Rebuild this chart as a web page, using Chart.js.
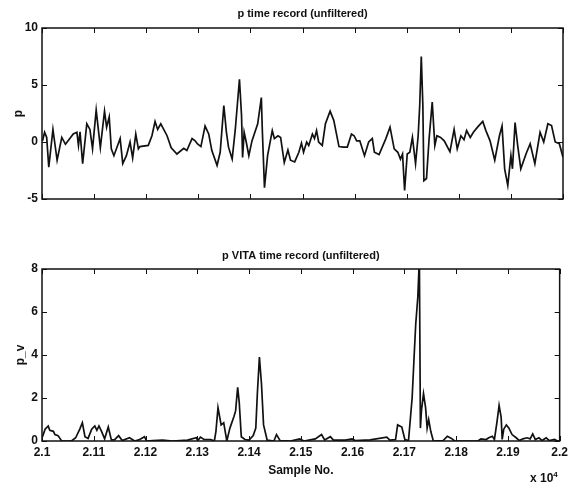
<!DOCTYPE html>
<html>
<head>
<meta charset="utf-8">
<script src="https://cdn.jsdelivr.net/npm/chart.js@4.4.1/dist/chart.umd.min.js"></script>
<style>
  html, body { margin: 0; padding: 0; background: #fff; }
  #wrap { position: relative; width: 572px; height: 489px; }
  .panel { position: absolute; left: 0; }
  #exp { position: absolute; left: 530px; top: 470px; color: #111;
         font: bold 12px "Liberation Sans", Arial, sans-serif; }
  #exp sup { font-size: 8px; }
</style>
</head>
<body>
<div id="wrap">
  <canvas id="pTop" class="panel" style="top:0" width="572" height="240"></canvas>
  <canvas id="pBottom" class="panel" style="top:240px" width="572" height="249"></canvas>
  <div id="exp">x 10<sup>4</sup></div>
</div>
<script>
// p and p VITA time records, samples 21000..22000

const FONT = '"Liberation Sans", Arial, sans-serif';

const xTickValues = [21000, 21100, 21200, 21300, 21400, 21500, 21600, 21700, 21800, 21900, 22000];
const xTickLabels = ["2.1", "2.11", "2.12", "2.13", "2.14", "2.15", "2.16", "2.17", "2.18", "2.19", "2.2"];
const pTicks = [-5, 0, 5, 10];
const pvTicks = [0, 2, 4, 6, 8];

// p (unfiltered)
const pSamples = [
  21001, 21005, 21009, 21013, 21021, 21029, 21038, 21045, 21060, 21067, 21070, 21073, 21078, 21086,
  21092, 21097, 21104, 21112, 21120, 21124, 21129, 21133, 21138, 21150, 21155, 21162, 21169, 21174,
  21180, 21185, 21188, 21204, 21211, 21217, 21222, 21228, 21240, 21248, 21259, 21272, 21278, 21288,
  21294, 21298, 21305, 21313, 21320, 21326, 21336, 21342, 21349, 21354, 21358, 21365, 21371, 21379,
  21383, 21385, 21388, 21392, 21397, 21403, 21414, 21421, 21423, 21427, 21433, 21442, 21446, 21453,
  21458, 21465, 21472, 21477, 21485, 21493, 21498, 21502, 21508, 21512, 21519, 21523, 21527, 21531,
  21538, 21544, 21553, 21560, 21570, 21579, 21586, 21594, 21599, 21604, 21610, 21619, 21627, 21634,
  21638, 21647, 21660, 21668, 21676, 21683, 21688, 21692, 21696, 21701, 21706, 21711, 21717, 21722,
  21725, 21728, 21731, 21733, 21738, 21743, 21749, 21754, 21758, 21765, 21772, 21783, 21791, 21797,
  21804, 21810, 21815, 21822, 21828, 21836, 21846, 21852, 21860, 21869, 21878, 21883, 21888, 21894,
  21900, 21903, 21908, 21913, 21919, 21929, 21937, 21946, 21956, 21963, 21971, 21978, 21985, 21993,
  22000
];
const pValues = [
  0.1, 0.85, 0.4, -2.2, 1.1, -1.6, 0.4, -0.2, 0.7, 0.85, -0.3, 0.9, -1.9, 1.6,
  1.1, -0.6, 2.8, -0.5, 2.7, 1.3, 2.2, -0.6, -1.2, 0.3, -1.9, -1.2, 0.0, -1.4,
  0.7, -0.6, -0.4, -0.3, 0.55, 1.8, 1.1, 1.6, 0.55, -0.5, -1.05, -0.55, -0.75, 0.3,
  0.1, -0.15, -0.4, 1.4, 0.7, -0.75, -2.05, -0.9, 3.2, 0.85, -0.45, -1.5, 1.1, 5.5,
  2.3, -1.35, 0.85, 0, -1.2, 0.1, 1.6, 3.9, 0.9, -4.0, -1.2, 1.0, 0.3, 0.55,
  0.4, -1.8, -0.7, -1.6, -1.75, -0.9, -0.1, -0.9, 0, -0.3, 0.7, 0.3, 1.0, 0,
  -0.3, 1.6, 2.7, 1.9, -0.4, -0.45, -0.45, 0.7, 0.55, 0.1, 0.1, -1.2, 0, 0.3,
  -0.9, -1.1, 0.3, 1.3, -0.6, -0.9, -1.5, -1.05, -4.25, -1.05, -0.9, 0.4, -1.9, 0.55,
  3.2, 7.5, 3.2, -3.4, -3.2, 0.3, 3.5, -0.3, 0.55, 0.4, 0.1, -0.85, 1.1, -0.6,
  0.55, 0.2, 1.0, 0.4, 0.85, 1.3, 1.8, 1.0, 0.1, -1.6, 0.55, 1.4, -2.35, -3.8,
  -1.2, -2.35, 1.7, -0.3, -2.35, -1.05, -0.15, -1.9, 0.85, 0, 1.6, 1.45, 0, -0.15,
  -1.35
];

// p VITA (unfiltered)
const pvSamples = [
  21001, 21006, 21012, 21015, 21022, 21025, 21031, 21038, 21057, 21065, 21073, 21078, 21083, 21089,
  21096, 21102, 21106, 21110, 21115, 21121, 21128, 21134, 21140, 21148, 21155, 21169, 21179, 21187,
  21198, 21202, 21214, 21233, 21252, 21281, 21298, 21301, 21306, 21313, 21326, 21333, 21336, 21340,
  21346, 21351, 21357, 21363, 21371, 21374, 21378, 21381, 21385, 21392, 21400, 21408, 21413, 21416,
  21420, 21424, 21428, 21435, 21448, 21453, 21460, 21480, 21498, 21506, 21528, 21540, 21546, 21557,
  21563, 21586, 21599, 21605, 21634, 21666, 21672, 21683, 21687, 21695, 21701, 21708, 21715, 21719,
  21722, 21726, 21729, 21731, 21733, 21737, 21741, 21744, 21747, 21751, 21756, 21775, 21783, 21791,
  21797, 21842, 21848, 21858, 21863, 21870, 21874, 21879, 21883, 21887, 21889, 21892, 21897, 21902,
  21908, 21916, 21922, 21929, 21937, 21943, 21948, 21953, 21960, 21966, 21974, 21980, 21990, 21996,
  22000
];
const pvValues = [
  0.2, 0.55, 0.7, 0.5, 0.45, 0.3, 0.25, 0, 0, 0.15, 0.55, 0.85, 0.2, 0.12,
  0.55, 0.7, 0.5, 0.7, 0.45, 0.1, 0.65, 0.05, 0.05, 0.25, 0.02, 0.15, 0, 0.05,
  0.2, 0, 0.02, 0.04, 0, 0.04, 0.15, 0.02, 0.18, 0.07, 0.07, 0, 0.45, 1.55,
  0.75, 0.85, 0, 0.6, 1.15, 1.4, 2.5, 1.8, 0.2, 0.07, 0.04, 0.25, 0.6, 2.2,
  3.9, 2.65, 0.75, 0.04, 0, 0.3, 0.02, 0, 0.1, 0, 0.1, 0.3, 0.05, 0.2,
  0.04, 0.04, 0.1, 0.02, 0.05, 0.18, 0.04, 0.07, 0.75, 0.65, 0.07, 0.02, 2.0, 4.0,
  5.45, 6.7, 8.5, 0.6, 1.4, 2.2, 1.55, 0.6, 1.0, 0.45, 0, 0.02, 0.22, 0.12,
  0, 0, 0.1, 0.07, 0.15, 0.22, 0.07, 0.9, 1.65, 1.1, 0.07, 0.55, 0.75, 0.6,
  0.3, 0.15, 0.02, 0.1, 0.15, 0.1, 0.33, 0.07, 0.15, 0.02, 0.15, 0.02, 0.07, 0,
  0.02
];

// MATLAB-like box with inward tick marks on all four sides
const boxTicks = {
  id: "boxTicks",
  afterDraw(chart) {
    const { ctx, chartArea: a, scales: { x, y } } = chart;
    const len = 5;
    ctx.save();
    ctx.strokeStyle = "#111";
    ctx.lineWidth = 1.5;
    ctx.strokeRect(a.left, a.top, a.right - a.left, a.bottom - a.top);
    ctx.lineWidth = 1;
    ctx.beginPath();
    x.ticks.forEach((t) => {
      const px = Math.round(x.getPixelForValue(t.value)) + 0.5;
      ctx.moveTo(px, a.bottom); ctx.lineTo(px, a.bottom - len);
      ctx.moveTo(px, a.top); ctx.lineTo(px, a.top + len);
    });
    y.ticks.forEach((t) => {
      const py = Math.round(y.getPixelForValue(t.value)) + 0.5;
      ctx.moveTo(a.left, py); ctx.lineTo(a.left + len, py);
      ctx.moveTo(a.right, py); ctx.lineTo(a.right - len, py);
    });
    ctx.stroke();
    ctx.restore();
  },
};

function panel(canvas, o) {
  const tickFont = { family: FONT, size: 12, weight: "bold" };
  return new Chart(canvas, {
    type: "line",
    data: {
      datasets: [{
        data: o.xs.map((s, i) => ({ x: s, y: o.ys[i] })),
        borderColor: "#111",
        borderWidth: 1.7,
        pointRadius: 0,
        tension: 0,
        fill: false,
      }],
    },
    options: {
      responsive: false,
      animation: false,
      layout: { padding: { top: 1, right: 9, left: 0, bottom: 0 } },
      plugins: {
        legend: { display: false },
        tooltip: { enabled: false },
        title: {
          display: true, text: o.title, fullSize: false, color: "#111",
          font: { family: FONT, size: 11, weight: "bold" },
          padding: { top: o.titleTop, bottom: o.titleBottom },
        },
      },
      scales: {
        x: {
          type: "linear", min: 21000, max: 22000,
          grid: { display: false, drawTicks: false },
          border: { display: false },
          afterBuildTicks: (s) => { s.ticks = xTickValues.map((v) => ({ value: v })); },
          ticks: {
            display: o.xLabels, autoSkip: false, maxRotation: 0, padding: 4,
            color: "#111", font: tickFont,
            callback: (v, i) => xTickLabels[i],
          },
          title: {
            display: o.xLabels, text: "Sample No.", color: "#111", font: tickFont,
            padding: { top: 0, bottom: 11 },
          },
          afterFit: (s) => { s.height = o.xHeight; },
        },
        y: {
          min: o.yTicks[0], max: o.yTicks[o.yTicks.length - 1],
          grid: { display: false, drawTicks: false },
          border: { display: false },
          afterBuildTicks: (s) => { s.ticks = o.yTicks.map((v) => ({ value: v })); },
          ticks: { padding: 4, color: "#111", font: tickFont },
          title: {
            display: true, text: o.yLabel, color: "#111",
            font: { family: FONT, size: 12, weight: "bold" },
            padding: { top: o.yTitlePad, bottom: 0 },
          },
          afterFit: (s) => { s.width = 42; },
        },
      },
    },
    plugins: [boxTicks],
  });
}

panel(document.getElementById("pTop"), {
  xs: pSamples, ys: pValues, yTicks: pTicks,
  title: "p time record (unfiltered)", titleTop: 5.9, titleBottom: 7.9,
  yLabel: "p", yTitlePad: 11.5, xLabels: false, xHeight: 41,
});

panel(document.getElementById("pBottom"), {
  xs: pvSamples, ys: pvValues, yTicks: pvTicks,
  title: "p VITA time record (unfiltered)", titleTop: 8.4, titleBottom: 6.4,
  yLabel: "p_v", yTitlePad: 13, xLabels: true, xHeight: 48,
});
</script>
</body>
</html>
